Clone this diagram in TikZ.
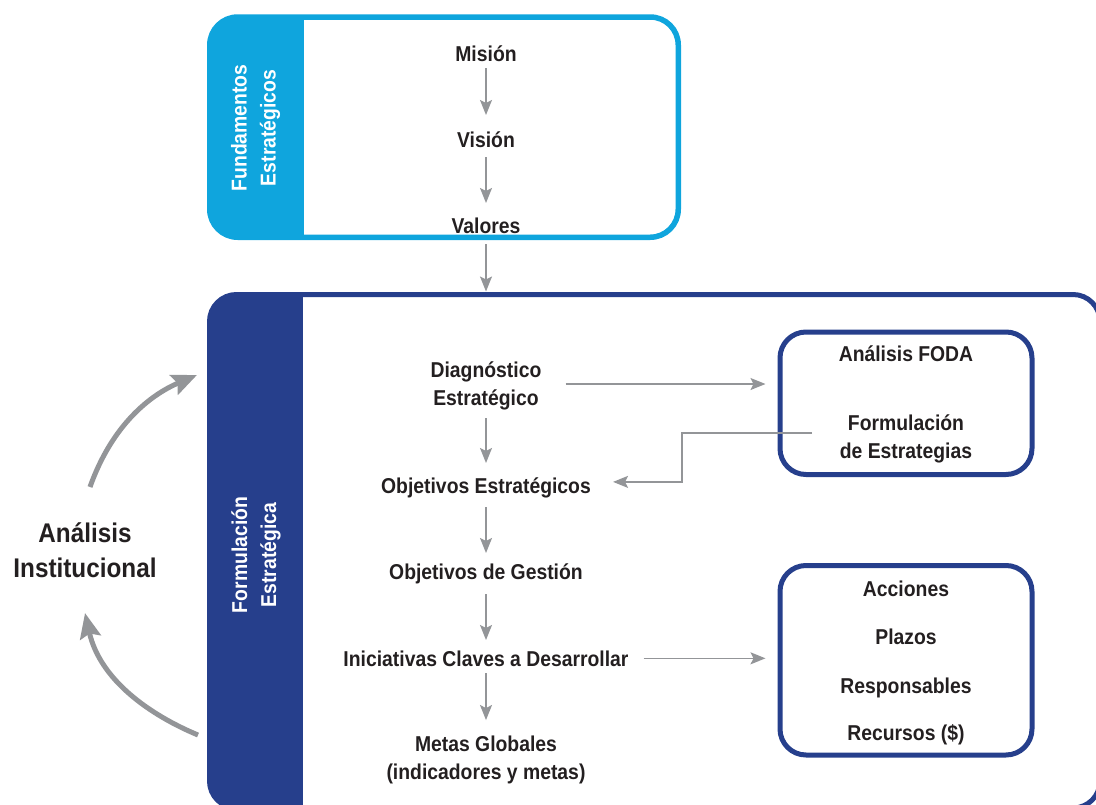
\documentclass[tikz,border=0pt]{standalone}
\usepackage{fontspec}
\setmainfont{Liberation Sans}[FakeStretch=0.9]
\usetikzlibrary{arrows.meta,calc}
\definecolor{skyband}{HTML}{0FA5DD}
\definecolor{navyband}{HTML}{263F8C}
\definecolor{arrowgray}{HTML}{939598}
\definecolor{inkblack}{HTML}{231F20}
\begin{document}
\begin{tikzpicture}[x=1pt,y=-1pt,
  lbl/.style={font=\fontsize{21.5}{27.5}\selectfont\bfseries, text=inkblack, inner sep=0pt, align=center},
  bandlbl/.style={lbl, text=white, rotate=90, font=\fontsize{21.5}{29}\selectfont\bfseries},
  biglbl/.style={lbl, font=\fontsize{27}{35}\selectfont\bfseries},
  flow/.style={draw=arrowgray, line width=1.4pt, -{Stealth[length=15pt,width=12pt,inset=3pt]}},
  loop/.style={draw=arrowgray, line width=5pt, -{Stealth[length=25pt,width=21pt,inset=4pt]}},
  panel/.style={draw=navyband, line width=5pt, rounded corners=26pt, inner sep=0pt}]
\useasboundingbox (0,0) rectangle (1096,804);
\begin{scope}
\clip (0,0) rectangle (1096,804);

% Fundamentos block
\begin{scope}
  \clip[rounded corners=28pt] (209.75,17) rectangle (678.25,237.25);
  \fill[skyband] (200,10) rectangle (304,245);
\end{scope}
\draw[skyband, line width=5.5pt, rounded corners=28pt] (209.75,17) rectangle (678.25,237.25);

% Formulacion block (runs past the page edge)
\begin{scope}
  \clip[rounded corners=27pt] (209.5,294.5) rectangle (1100,808);
  \fill[navyband] (200,285) rectangle (303,820);
\end{scope}
\draw[navyband, line width=5pt, rounded corners=27pt] (209.5,294.5) rectangle (1100,808);
\coordinate (formtop) at (486,291.5);

% band labels
\node[bandlbl] (fund) at (255.5,128) {Fundamentos\\Estratégicos};
\node[bandlbl] (form) at (256,555) {Formulación\\Estratégica};

% Fundamentos column
\node[lbl, anchor=base] (mision) at (486,61) {Misión};
\node[lbl, anchor=base] (vision) at (486,147) {Visión};
\node[lbl, anchor=base] (valores) at (486,233) {Valores};

% Formulacion column
\node[lbl] (diag) at (486,386) {Diagnóstico\\Estratégico};
\node[lbl, anchor=base] (objest) at (486,493.5) {Objetivos Estratégicos};
\node[lbl, anchor=base] (objges) at (486,579.5) {Objetivos de Gestión};
\node[lbl, anchor=base] (inic) at (486,666) {Iniciativas Claves a Desarrollar};
\node[lbl] (metas) at (486,760) {Metas Globales\\(indicadores y metas)};

% side panels
\node[panel, minimum width=252pt, minimum height=142.5pt] (foda) at (906,403.25) {};
\node[lbl, anchor=base] (fodat) at (906,361.5) {Análisis FODA};
\node[lbl] (formest) at (906,439) {Formulación\\de Estrategias};

\node[panel, minimum width=252pt, minimum height=189.5pt] (plan) at (906,660.25) {};
\node[lbl, anchor=base] (acc) at (906,596.5) {Acciones};
\node[lbl, anchor=base] (plz) at (906,644.5) {Plazos};
\node[lbl, anchor=base] (resp) at (906,693.5) {Responsables};
\node[lbl, anchor=base] (rec) at (906,740.5) {Recursos (\$)};

% institutional analysis loop
\node[biglbl] (inst) at (85,550) {Análisis\\Institucional};

% vertical flow
\draw[flow] ([yshift=-7pt]mision.base) -- ([yshift=32pt]vision.base);
\draw[flow] ([yshift=-10pt]vision.base) -- ([yshift=30pt]valores.base);
\draw[flow] ([yshift=-11pt]valores.base) -- (formtop);
\draw[flow] ([yshift=-8pt]diag.south) -- ([yshift=30.5pt]objest.base);
\draw[flow] ([yshift=-13.5pt]objest.base) -- ([yshift=26.5pt]objges.base);
\draw[flow] ([yshift=-14.5pt]objges.base) -- ([yshift=26pt]inic.base);
\draw[flow] ([yshift=-7pt]inic.base) -- ([yshift=16pt]metas.north);

% side connections
\draw[flow] ($(diag.east)+(24,-2)$) -- ($(diag.east -| foda.west)+(-12,-2)$);
\coordinate (fstart) at (812,433);
\draw[flow] (fstart) -- ++(-130,0) |- ($(objest.east)+(22,-6)$);
\draw[flow] ($(inic.east)+(15,0)$) -- ($(inic.east -| plan.west)+(-12,0)$);

% loop arrows
\coordinate (up0) at (90,487);
\coordinate (up1) at (197,375);
\draw[loop] (up0) .. controls (112,425) and (150,395) .. (up1);
\coordinate (lo0) at (198,735);
\coordinate (lo1) at (85,613);
\draw[loop] (lo0) .. controls (150,715) and (100,680) .. (lo1);
\end{scope}
\end{tikzpicture}
\end{document}
